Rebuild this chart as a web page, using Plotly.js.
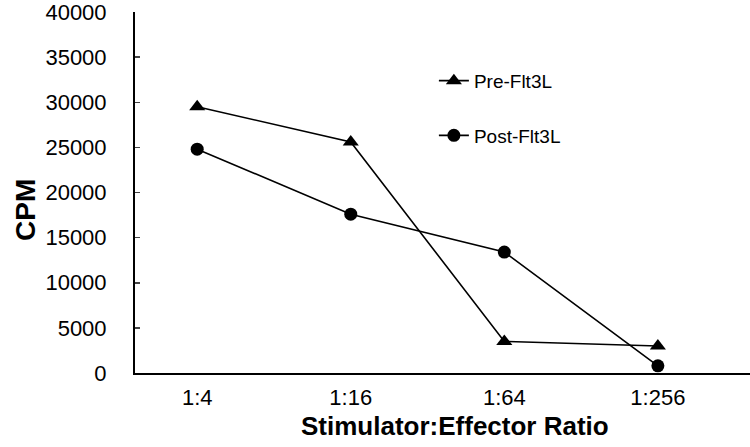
<!DOCTYPE html>
<html>
<head>
<meta charset="utf-8">
<script src="https://cdn.plot.ly/plotly-3.0.1.min.js"></script>
<style>
  html, body { margin: 0; padding: 0; background: #fff; }
  #plot { width: 750px; height: 447px; }
</style>
</head>
<body>
<div id="plot"></div>
<script>
const ratios = ["1:4", "1:16", "1:64", "1:256"];
const preFlt3L = [29500, 25600, 3500, 3000];
const postFlt3L = [24800, 17600, 13400, 800];
const yTicks = [0, 5000, 10000, 15000, 20000, 25000, 30000, 35000, 40000];

const font = "Liberation Sans, Arial, sans-serif";

const traces = [
  {
    x: ratios,
    y: preFlt3L,
    name: "Pre-Flt3L",
    mode: "lines+markers",
    legendgroup: "pre",
    line: { color: "#000", width: 1.6 },
    marker: { symbol: "triangle-up", size: 14, color: "#000" },
  },
  {
    x: ratios,
    y: postFlt3L,
    name: "Post-Flt3L",
    mode: "lines+markers",
    legendgroup: "post",
    line: { color: "#000", width: 1.6 },
    marker: { symbol: "circle", size: 13, color: "#000" },
  },
];

const layout = {
  width: 750,
  height: 447,
  margin: { t: 12, r: 0, b: 74, l: 135 },
  paper_bgcolor: "#fff",
  plot_bgcolor: "#fff",
  font: { family: font, color: "#000" },
  showlegend: true,
  legend: {
    x: 0.486,
    y: 0.862,
    xanchor: "left",
    yanchor: "top",
    bgcolor: "rgba(0,0,0,0)",
    font: { size: 19, family: font },
    tracegroupgap: 27,
    traceorder: "grouped",
  },
  xaxis: {
    type: "category",
    range: [-0.405, 3.6],
    showline: true,
    linecolor: "#000",
    linewidth: 2,
    ticks: "",
    showgrid: false,
    zeroline: false,
    tickfont: { size: 22, family: font },
    ticklabelstandoff: 4,
  },
  yaxis: {
    range: [0, 40000],
    tickvals: yTicks,
    ticktext: yTicks.map(String),
    showline: true,
    linecolor: "#000",
    linewidth: 2,
    ticks: "inside",
    ticklen: 5,
    tickwidth: 1.5,
    showgrid: false,
    zeroline: false,
    tickfont: { size: 22, family: font },
    ticklabelstandoff: 22,
    ticklabeloverflow: "allow",
  },
  annotations: [
    {
      text: "<b>Stimulator:Effector Ratio</b>",
      xref: "paper",
      yref: "paper",
      x: (455 - 135) / 615,
      y: -(409 - 373) / 361,
      xanchor: "center",
      yanchor: "top",
      showarrow: false,
      font: { size: 26, family: font },
    },
    {
      text: "<b>CPM</b>",
      xref: "paper",
      yref: "paper",
      x: -(135 - 25) / 615,
      y: (373 - 210) / 361,
      xanchor: "center",
      yanchor: "middle",
      textangle: -90,
      showarrow: false,
      font: { size: 28, family: font },
    },
  ],
};

Plotly.newPlot("plot", traces, layout, { displayModeBar: false, staticPlot: true });
</script>
</body>
</html>
